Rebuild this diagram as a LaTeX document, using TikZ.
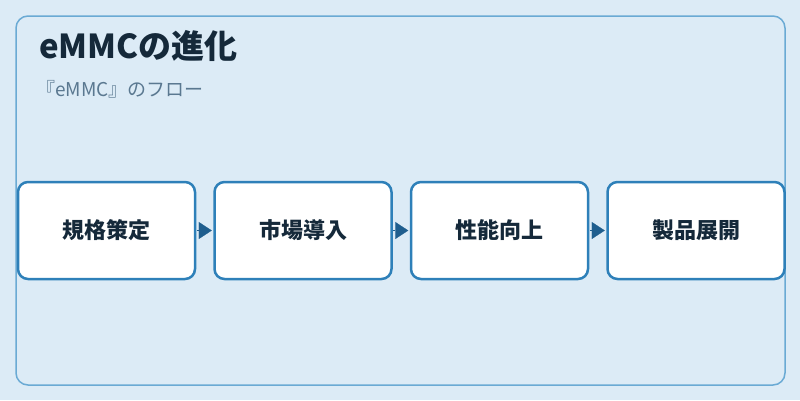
\documentclass[tikz,border=0pt]{standalone}
\usepackage{fontspec}
\setmainfont{Noto Sans CJK JP}
\usetikzlibrary{positioning, arrows.meta}

\definecolor{bgblue}{HTML}{DCEBF6}
\definecolor{frameblue}{HTML}{6AAAD4}
\definecolor{boxblue}{HTML}{2E80B9}
\definecolor{arrowblue}{HTML}{1F5E8E}
\definecolor{titleink}{HTML}{15293A}
\definecolor{subink}{HTML}{5A7890}

\tikzset{
  stagebox/.style={draw=boxblue, line width=2.5pt, fill=white, rounded corners=10pt,
    minimum width=177pt, minimum height=97pt, inner sep=0pt,
    font=\fontsize{22}{26}\selectfont\bfseries, text=titleink},
  flowarrow/.style={draw=arrowblue, line width=0.2pt,
    -{Triangle[length=13pt,width=17pt]}, shorten <=0.5pt, shorten >=1.5pt}
}

\begin{document}
\begin{tikzpicture}[x=1pt, y=-1pt]
  \useasboundingbox[fill=bgblue] (0,0) rectangle (800,400);
  \draw[frameblue, line width=1.5pt, fill=bgblue, rounded corners=12pt] (16,16) rectangle (785,385);

  \node[anchor=base west, inner sep=0pt, text=titleink,
        font=\fontsize{33}{36}\selectfont\bfseries] (title) at (39,58) {eMMCの進化};
  \node[anchor=base west, inner sep=0pt, text=subink,
        font=\fontsize{19}{22}\selectfont] (subtitle) at (36,96) {『eMMC』のフロー};

  \node[stagebox] (spec) at (106.5,230.5) {規格策定};
  \node[stagebox, right=17pt of spec] (market) {市場導入};
  \node[stagebox, right=17pt of market] (perf) {性能向上};
  \node[stagebox, right=17pt of perf] (product) {製品展開};

  \foreach \a/\b in {spec/market, market/perf, perf/product}
    \draw[flowarrow] (\a) -- (\b);
\end{tikzpicture}
\end{document}
